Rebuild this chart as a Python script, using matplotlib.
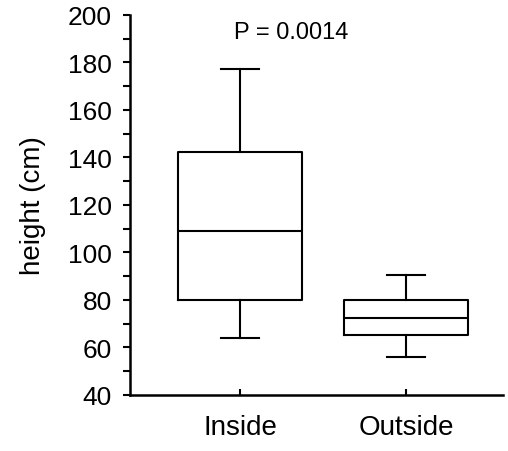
import matplotlib; matplotlib.use('Agg')
import matplotlib.pyplot as plt
from matplotlib.ticker import MultipleLocator

groups = ['Inside', 'Outside']
whislo = [64, 56]
q1 = [80, 65.3]
med = [109.2, 72.6]
q3 = [142.2, 80.1]
whishi = [177.3, 90.5]
p_text = 'P = 0.0014'

plt.rcParams['font.family'] = ['Liberation Sans', 'DejaVu Sans']
fig = plt.figure(figsize=(5.08, 4.52), dpi=100)
ax = fig.add_axes([0.256, 0.124, 0.734, 0.841])

stats = [dict(label=g, whislo=a, q1=b, med=c, q3=d, whishi=e, fliers=[])
         for g, a, b, c, d, e in zip(groups, whislo, q1, med, q3, whishi)]
lp = dict(color='black', lw=1.5)
ax.bxp(stats, positions=[1, 2], widths=0.75, showfliers=False,
       boxprops=lp, medianprops=lp, whiskerprops=lp, capprops=lp,
       capwidths=0.23, manage_ticks=False)

ax.set_xlim(0.337, 2.584)
ax.set_ylim(40, 200)
ax.set_xticks([1, 2])
ax.set_xticklabels(groups, fontsize=20)
ax.yaxis.set_major_locator(MultipleLocator(20))
ax.yaxis.set_minor_locator(MultipleLocator(10))
ax.tick_params(axis='y', which='both', direction='out', length=5, width=1.5, labelsize=19, pad=8)
ax.tick_params(axis='x', direction='in', length=4, width=1.5, pad=14)
for s in ['top', 'right']:
    ax.spines[s].set_visible(False)
for s in ['left', 'bottom']:
    ax.spines[s].set_linewidth(1.8)
ax.set_ylabel('height (cm)', fontsize=20, labelpad=16)
ax.text(1.311, 192.8, p_text, ha='center', va='center', fontsize=17)

fig.savefig('out.png', dpi=100)
